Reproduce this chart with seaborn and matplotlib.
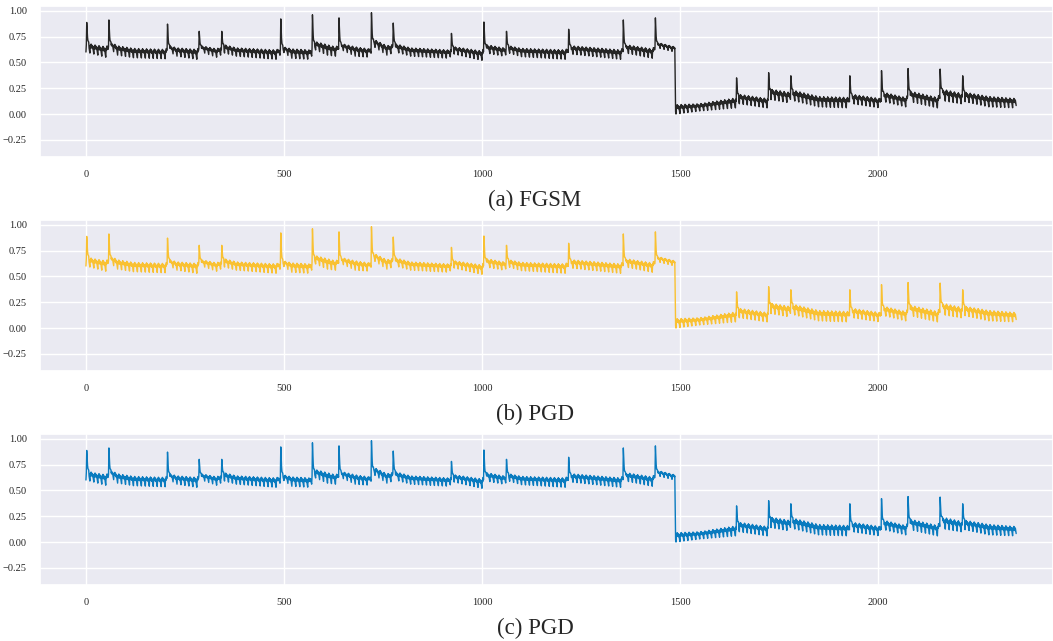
import numpy as np
import pandas as pd
import matplotlib
matplotlib.use("Agg")
import matplotlib.pyplot as plt
import seaborn as sns

# ---- values ----
n_points = 2350
# envelope anchors (x, upper level, lower level) of the periodic oscillation
env_x = [0, 20, 50, 65, 80, 120, 200, 212, 230, 280, 292, 330, 350, 380, 480, 498,
         520, 565, 580, 610, 630, 646, 680, 715, 728, 760, 782, 820, 915, 930, 1000,
         1012, 1055, 1068, 1100, 1210, 1226, 1350, 1364, 1430, 1445, 1487,
         1489, 1550, 1640, 1650, 1720, 1730, 1775, 1786, 1850, 1925, 1936, 2005,
         2015, 2070, 2082, 2150, 2163, 2210, 2220, 2280, 2349]
env_top = [0.69, 0.67, 0.65, 0.69, 0.66, 0.635, 0.625, 0.66, 0.64, 0.625, 0.66, 0.63,
           0.67, 0.64, 0.62, 0.65, 0.63, 0.62, 0.70, 0.67, 0.65, 0.68, 0.65, 0.63,
           0.72, 0.66, 0.68, 0.64, 0.62, 0.65, 0.61, 0.67, 0.64, 0.66, 0.635, 0.62,
           0.66, 0.62, 0.67, 0.63, 0.69, 0.65,
           0.09, 0.10, 0.155, 0.19, 0.15, 0.24, 0.21, 0.23, 0.17, 0.16, 0.19, 0.15,
           0.21, 0.16, 0.22, 0.16, 0.24, 0.20, 0.21, 0.17, 0.15]
env_bottom = [0.60, 0.58, 0.55, 0.62, 0.57, 0.545, 0.535, 0.60, 0.56, 0.53, 0.60, 0.55,
              0.59, 0.56, 0.53, 0.60, 0.54, 0.53, 0.62, 0.57, 0.56, 0.62, 0.56, 0.55,
              0.65, 0.57, 0.60, 0.56, 0.54, 0.58, 0.52, 0.59, 0.56, 0.59, 0.555, 0.53,
              0.58, 0.53, 0.59, 0.54, 0.64, 0.60,
              0.0, 0.03, 0.06, 0.10, 0.06, 0.14, 0.11, 0.13, 0.07, 0.06, 0.10, 0.06,
              0.12, 0.07, 0.12, 0.06, 0.13, 0.10, 0.12, 0.07, 0.06]
# shape of one 10-step oscillation (0 = lower level, 1 = upper level)
cycle_shape = [0.0, 0.85, 0.6, 1.0, 0.7, 0.9, 0.55, 0.8, 0.5, 0.25]
# spikes
spike_x = [2, 58, 206, 286, 343, 492, 572, 639, 721, 776, 923, 1005, 1062, 1219,
           1357, 1438, 1643, 1724, 1780, 1929, 2009, 2076, 2157, 2214]
spike_y = [0.886, 0.91, 0.87, 0.80, 0.80, 0.92, 0.96, 0.93, 0.98, 0.88, 0.78, 0.89,
           0.80, 0.82, 0.91, 0.93, 0.35, 0.40, 0.37, 0.37, 0.42, 0.44, 0.435, 0.37]
# fall-off after each spike (fraction of the spike height above the upper level)
spike_tail = [1.0, 0.62, 0.3, 0.12, 0.1, 0.06]

captions = ["(a) FGSM", "(b) PGD", "(c) PGD"]
colors = ["#262626", "#F9C132", "#0A7BBF"]

# ---- assemble the series from the read values ----
idx = np.arange(n_points)
top = np.interp(idx, env_x, env_top)
bot = np.interp(idx, env_x, env_bottom)
shape = np.array(cycle_shape)[idx % len(cycle_shape)]
values = bot + shape * (top - bot)
values[0] = 0.60
for sx, sy in zip(spike_x, spike_y):
    for j, f in enumerate(spike_tail):
        values[sx + j] = top[sx + j] + f * (sy - top[sx + j])
df = pd.DataFrame({"t": idx, "v": values})

# ---- draw ----
sns.set_theme(style="darkgrid")
plt.rcParams["font.family"] = ["Liberation Serif", "DejaVu Serif"]

fig = plt.figure(figsize=(10.53, 6.41), dpi=100)
tops_px = [6, 220, 434]
cap_px = [200, 414, 628]
for k in range(3):
    top_px = tops_px[k]
    ax = fig.add_axes([40 / 1053, 1 - (top_px + 151) / 641, 1013 / 1053, 151 / 641])
    sns.lineplot(data=df, x="t", y="v", ax=ax, color=colors[k], linewidth=1.0)
    ax.set_xlim(-116, 2442)
    ax.set_ylim(-0.415, 1.045)
    ax.set_xticks([0, 500, 1000, 1500, 2000])
    ax.set_yticks([-0.25, 0.0, 0.25, 0.5, 0.75, 1.0])
    ax.set_yticklabels(["\u22120.25", "0.00", "0.25", "0.50", "0.75", "1.00"])
    ax.tick_params(labelsize=7.5)
    ax.set_xlabel("")
    ax.set_ylabel("")
    fig.text(535 / 1053, 1 - cap_px[k] / 641, captions[k], ha="center", va="center",
             fontsize=16.5)

fig.savefig("out.png", dpi=100)
